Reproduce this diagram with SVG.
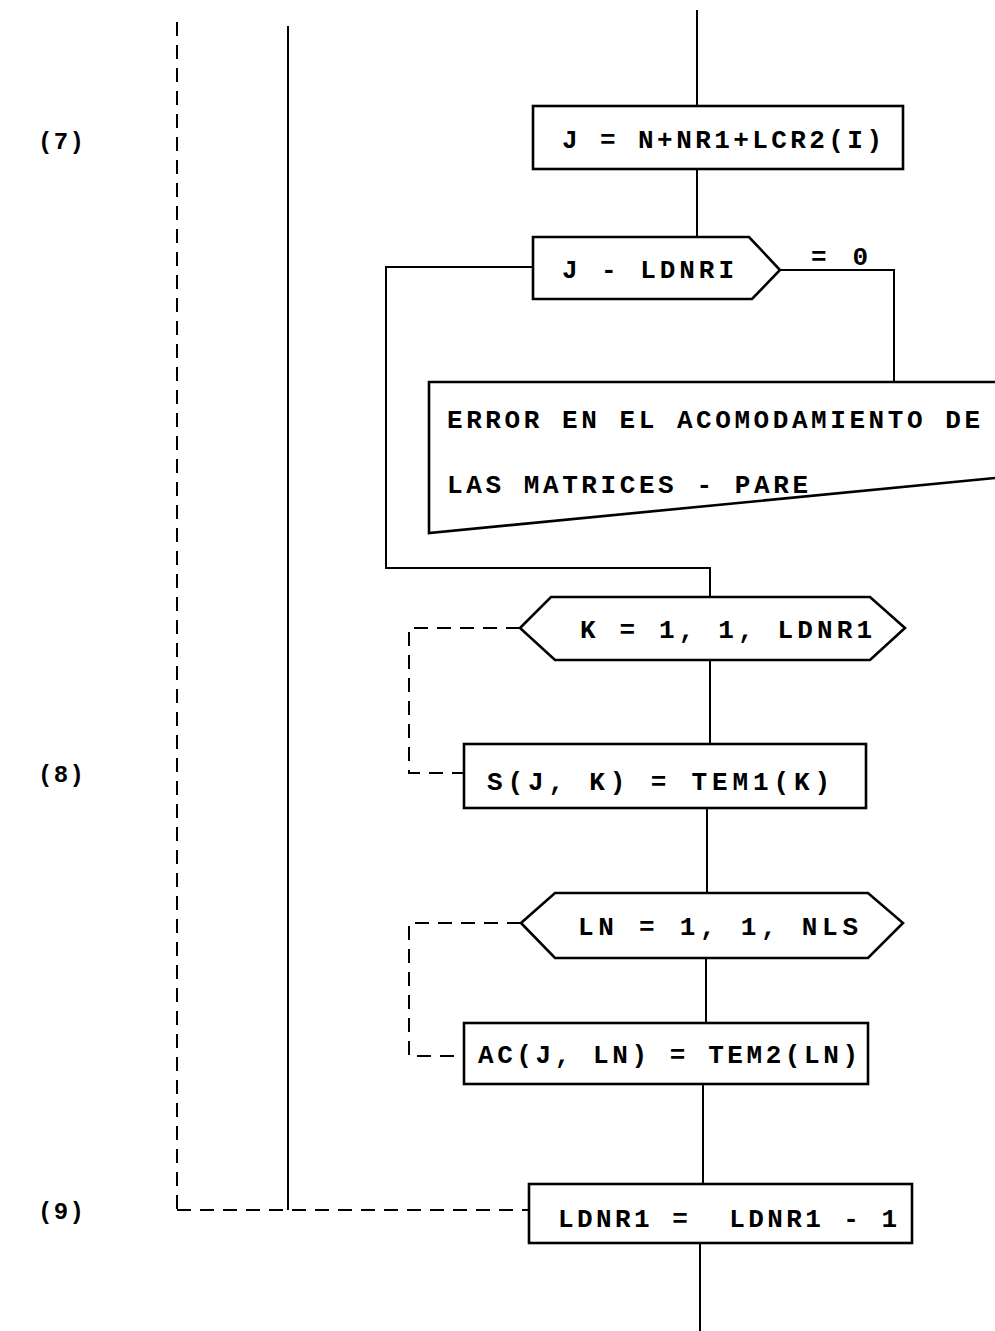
<svg xmlns="http://www.w3.org/2000/svg" width="995" height="1331" viewBox="0 0 995 1331">
  <style>
    .shape { fill: none; stroke: #000; stroke-width: 2.6; stroke-linejoin: miter; }
    .flow { fill: none; stroke: #000; stroke-width: 2; }
    .dash { fill: none; stroke: #000; stroke-width: 2; stroke-dasharray: 14 9; }
    .txt { font-family: "Liberation Mono", "DejaVu Sans Mono", monospace; font-weight: bold; font-size: 26px; fill: #000; }
    .lbl { font-family: "Liberation Mono", "DejaVu Sans Mono", monospace; font-weight: bold; font-size: 24px; fill: #000; }
  </style>

  <rect width="995" height="1331" fill="#fff"/>

  <!-- step labels -->
  <g id="labels">
    <text class="lbl" x="38" y="149" textLength="46" lengthAdjust="spacing">(7)</text>
    <text class="lbl" x="38" y="782" textLength="46" lengthAdjust="spacing">(8)</text>
    <text class="lbl" x="38" y="1219" textLength="46" lengthAdjust="spacing">(9)</text>
  </g>

  <!-- connectors -->
  <g id="connectors">
    <!-- outer loop range lines -->
    <line class="dash" x1="177" y1="22" x2="177" y2="1210"/>
    <line class="flow" x1="288" y1="26" x2="288" y2="1210"/>
    <line class="dash" x1="177" y1="1210" x2="529" y2="1210"/>
    <!-- main flow -->
    <line class="flow" x1="697" y1="10" x2="697" y2="106"/>
    <line class="flow" x1="697" y1="169" x2="697" y2="237"/>
    <polyline class="flow" points="780,270 894,270 894,382"/>
    <polyline class="flow" points="533,267 386,267 386,568 710,568 710,597"/>
    <line class="flow" x1="710" y1="660" x2="710" y2="744"/>
    <line class="flow" x1="707" y1="808" x2="707" y2="893"/>
    <line class="flow" x1="706" y1="958" x2="706" y2="1023"/>
    <line class="flow" x1="703" y1="1084" x2="703" y2="1184"/>
    <line class="flow" x1="700" y1="1243" x2="700" y2="1331"/>
    <!-- inner DO loop ranges -->
    <polyline class="dash" points="520,628 409,628 409,773 464,773"/>
    <polyline class="dash" points="521,923 409,923 409,1056 464,1056"/>
    <text class="txt" x="811" y="265" textLength="57" lengthAdjust="spacing">= 0</text>
  </g>

  <g id="n-assign-j">
    <rect class="shape" x="533" y="106" width="370" height="63"/>
    <text class="txt" x="562" y="148" textLength="320" lengthAdjust="spacing">J = N+NR1+LCR2(I)</text>
  </g>

  <g id="n-test-j">
    <path class="shape" d="M533,237 H749 L780,270 L752,299 H533 Z"/>
    <text class="txt" x="562" y="278" textLength="172" lengthAdjust="spacing">J - LDNRI</text>
  </g>

  <g id="n-error">
    <path class="shape" d="M995,382 H429 V533 L995,478"/>
    <text class="txt" x="447" y="428" textLength="533" lengthAdjust="spacing">ERROR EN EL ACOMODAMIENTO DE</text>
    <text class="txt" x="447" y="493" textLength="361" lengthAdjust="spacing">LAS MATRICES - PARE</text>
  </g>

  <g id="n-do-k">
    <path class="shape" d="M520,628 L551,597 H870 L905,628 L870,660 H555 Z"/>
    <text class="txt" x="580" y="638" textLength="292" lengthAdjust="spacing">K = 1, 1, LDNR1</text>
  </g>

  <g id="n-s">
    <rect class="shape" x="464" y="744" width="402" height="64"/>
    <text class="txt" x="487" y="790" textLength="343" lengthAdjust="spacing">S(J, K) = TEM1(K)</text>
  </g>

  <g id="n-do-ln">
    <path class="shape" d="M521,923 L555,893 H868 L903,923 L868,958 H555 Z"/>
    <text class="txt" x="578" y="935" textLength="280" lengthAdjust="spacing">LN = 1, 1, NLS</text>
  </g>

  <g id="n-ac">
    <rect class="shape" x="464" y="1023" width="404" height="61"/>
    <text class="txt" x="478" y="1063" textLength="380" lengthAdjust="spacing">AC(J, LN) = TEM2(LN)</text>
  </g>

  <g id="n-ldnr1">
    <rect class="shape" x="529" y="1184" width="383" height="59"/>
    <text class="txt" x="558" y="1227" textLength="339" lengthAdjust="spacing" xml:space="preserve">LDNR1 =  LDNR1 - 1</text>
  </g>
</svg>
